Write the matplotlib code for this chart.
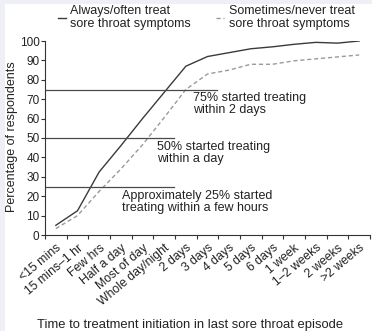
import matplotlib
matplotlib.use("Agg")
import matplotlib.pyplot as plt
from matplotlib.patches import Rectangle

plt.rcParams['font.family'] = ['Liberation Sans', 'DejaVu Sans']

# categories on the x axis
categories = ['<15 mins', '15 mins\u20131 hr', 'Few hrs', 'Half a day', 'Most of day',
              'Whole day/night', '2 days', '3 days', '4 days', '5 days', '6 days',
              '1 week', '1\u20132 weeks', '2 weeks', '>2 weeks']

# cumulative % of respondents
always_often = [5, 12.5, 32.5, 46, 60, 73.5, 87, 92, 94, 96, 97, 98.3, 99.3, 98.9, 100]
sometimes_never = [3.3, 10, 22.5, 34, 46.5, 60.5, 75, 83, 85, 88, 88, 89.8, 90.8, 91.8, 92.8]

# reference levels and their notes
ref_levels = [75, 50, 24.5]
ref_ends = [7.45, 5.45, 5.45]
ref_notes = ['75% started treating\nwithin 2 days',
             '50% started treating\nwithin a day',
             'Approximately 25% started\ntreating within a few hours']
note_pos = [(6.33, 67.3), (4.67, 42.5), (3.05, 16.8)]

txt = '#222222'

fig = plt.figure(figsize=(3.72, 3.31), dpi=100, facecolor='#eef0f5')
# white card on the grey page
fig.patches.append(Rectangle((5 / 372, 0), 1, 327 / 331, transform=fig.transFigure,
                             facecolor='white', edgecolor='none', zorder=-10))
ax = fig.add_axes([45 / 372, 96 / 331, 325 / 372, 194 / 331])
ax.set_facecolor('none')

x = list(range(len(categories)))
ax.plot(x, always_often, color='#3a3a3a', lw=1.0, label='Always/often treat\nsore throat symptoms')
ax.plot(x, sometimes_never, color='#9a9a9a', lw=1.0, dashes=(3, 2),
        label='Sometimes/never treat\nsore throat symptoms')

for lvl, end, note, pos in zip(ref_levels, ref_ends, ref_notes, note_pos):
    ax.plot([-0.5, end], [lvl, lvl], color='#4a4a4a', lw=0.9)
    ax.text(pos[0], pos[1], note, fontsize=9, color=txt, va='center', ha='left',
            linespacing=1.0)

ax.set_xlim(-0.5, 14.5)
ax.set_ylim(0, 100)
ax.set_yticks(range(0, 101, 10))
ax.set_xticks(x)
ax.set_xticklabels(categories, rotation=40, ha='right', rotation_mode='anchor',
                   fontsize=8.8, color=txt)
ax.set_xticks([i - 0.5 for i in range(len(categories) + 1)], minor=True)
ax.tick_params(axis='x', which='major', length=0, pad=5)
ax.tick_params(axis='x', which='minor', length=3, width=0.8, color='#333333')
ax.tick_params(axis='y', length=3, width=0.8, color='#333333', labelsize=8.5,
               labelcolor=txt, pad=1)
for s in ['top', 'right']:
    ax.spines[s].set_visible(False)
for s in ['left', 'bottom']:
    ax.spines[s].set_color('#333333')
    ax.spines[s].set_linewidth(0.8)

fig.text(12 / 372, 1 - 137 / 331, 'Percentage of respondents', rotation=90,
         ha='center', va='center', fontsize=9, color=txt)
fig.text(190 / 372, 1 - 325 / 331, 'Time to treatment initiation in last sore throat episode',
         ha='center', va='center', fontsize=9.4, color=txt)

leg = ax.legend(ncol=2, loc='center left', bbox_to_anchor=(13 / 325, 1 + (41 - 17.5) / 194),
                frameon=False, fontsize=9, handlelength=0.6, handletextpad=0.4,
                columnspacing=2.0, borderpad=0, borderaxespad=0)
for t in leg.get_texts():
    t.set_linespacing(1.05)
    t.set_color(txt)

fig.savefig('out.png', dpi=100, facecolor=fig.get_facecolor())
